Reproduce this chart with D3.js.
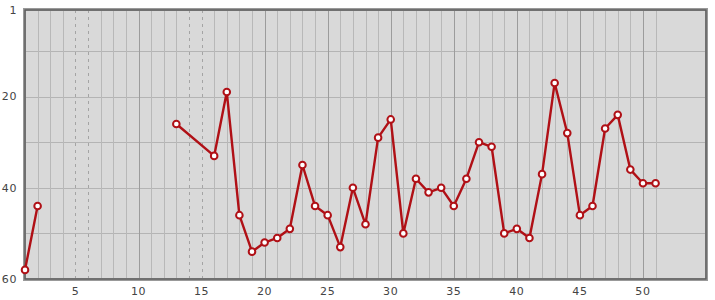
<!DOCTYPE html>
<html>
<head>
<meta charset="utf-8">
<script src="https://cdn.jsdelivr.net/npm/d3@7"></script>
<style>
  body { margin: 0; background: #fff; }
  text { font-family: "DejaVu Sans", sans-serif; font-size: 11px; fill: #444; letter-spacing: 0.6px; }
</style>
</head>
<body>
<svg id="chart" width="715" height="300"></svg>
<script>
// week numbers, rank per week (null = gap in the line)
var weeks = [1, 2, 3, 4, 5, 6, 7, 8, 9, 10, 11, 12, 13, 16, 17, 18, 19, 20, 21, 22, 23, 24, 25, 26, 27, 28, 29, 30,
	31, 32, 33, 34, 35, 36, 37, 38, 39, 40, 41, 42, 43, 44, 45, 46, 47, 48, 49, 50, 51];
var ranks = [58, 44, null, null, null, null, null, null, null, null, null, null, 26, 33, 19, 46, 54, 52, 51, 49, 35, 44, 46, 53, 40, 48, 29, 25,
	50, 38, 41, 40, 44, 38, 30, 31, 50, 49, 51, 37, 17, 28, 46, 44, 27, 24, 36, 39, 39];
var xTicks = [5, 10, 15, 20, 25, 30, 35, 40, 45, 50];
var yTicks = [1, 20, 40, 60];
var yGrid = [10, 20, 30, 40, 50];
var dashedWeeks = [5, 6, 14, 15];

var dims = { left: 25, top: 10, right: 706, bottom: 279 };

var svg = d3.select("#chart");

var xScale = d3.scaleLinear().domain([1, 55]).range([dims.left, dims.right]);
var yScale = d3.scaleLinear().domain([1, 60]).range([dims.top, dims.bottom]);

// plot background
svg.append("rect")
	.attr("x", dims.left).attr("y", dims.top)
	.attr("width", dims.right - dims.left).attr("height", dims.bottom - dims.top)
	.attr("fill", "#d9d9d9");

// horizontal grid
svg.append("g").selectAll("line")
	.data(yGrid).enter().append("line")
	.attr("x1", dims.left).attr("x2", dims.right)
	.attr("y1", d => Math.round(yScale(d)) + 0.5).attr("y2", d => Math.round(yScale(d)) + 0.5)
	.attr("stroke", "#b4b4b4");

// vertical grid, one line per week up to the last one
var gridWeeks = d3.range(2, d3.max(weeks) + 1);
svg.append("g").selectAll("line")
	.data(gridWeeks).enter().append("line")
	.attr("x1", d => Math.round(xScale(d)) + 0.5).attr("x2", d => Math.round(xScale(d)) + 0.5)
	.attr("y1", dims.top).attr("y2", dims.bottom)
	.attr("stroke", d => dashedWeeks.includes(d) ? "#a4a4a4" : (d % 5 == 0 ? "#9c9c9c" : "#b8b8b8"))
	.attr("stroke-dasharray", d => dashedWeeks.includes(d) ? "3,4" : null);

// border: light outer, dark inner
svg.append("rect")
	.attr("x", dims.left - 0.5).attr("y", dims.top - 0.5)
	.attr("width", dims.right - dims.left + 1).attr("height", dims.bottom - dims.top + 1)
	.attr("fill", "none").attr("stroke", "#999").attr("stroke-width", 3);
svg.append("rect")
	.attr("x", dims.left).attr("y", dims.top)
	.attr("width", dims.right - dims.left).attr("height", dims.bottom - dims.top)
	.attr("fill", "none").attr("stroke", "#555").attr("stroke-width", 1.2);

// axis labels
svg.append("g").selectAll("text")
	.data(yTicks).enter().append("text")
	.attr("x", 17).attr("y", d => yScale(d))
	.attr("dy", "0.35em").attr("text-anchor", "end")
	.text(d => d);

svg.append("g").selectAll("text")
	.data(xTicks).enter().append("text")
	.attr("x", d => xScale(d)).attr("y", dims.bottom + 12)
	.attr("dy", "0.35em").attr("text-anchor", "middle")
	.text(d => d);

// the line
var points = weeks.map((w, i) => ({ week: w, rank: ranks[i] }));

var line = d3.line()
	.defined(d => d.rank != null)
	.x(d => xScale(d.week))
	.y(d => yScale(d.rank));

svg.append("path")
	.datum(points)
	.attr("d", line)
	.attr("fill", "none")
	.attr("stroke", "#b01016")
	.attr("stroke-width", 2.4)
	.attr("stroke-linejoin", "round");

svg.append("g").selectAll("circle")
	.data(points.filter(d => d.rank != null))
	.enter().append("circle")
	.attr("cx", d => xScale(d.week))
	.attr("cy", d => yScale(d.rank))
	.attr("r", 3.3)
	.attr("fill", "#fff")
	.attr("stroke", "#b01016")
	.attr("stroke-width", 2);
</script>
</body>
</html>
